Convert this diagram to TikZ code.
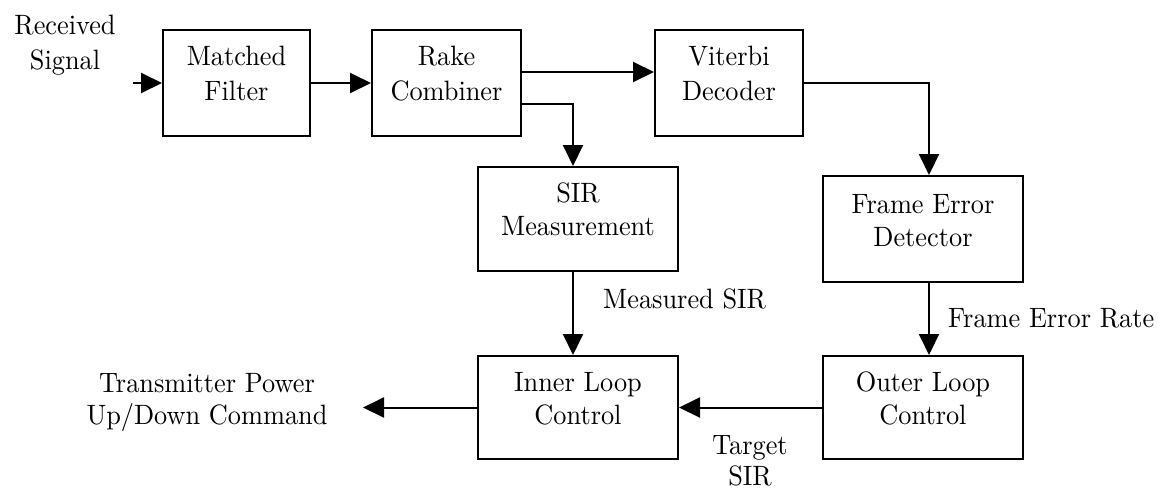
\documentclass[tikz,border=0pt]{standalone}
\usepackage{fontspec}
\newfontfamily\diagfont{lmroman10-regular.otf}[FakeStretch=0.94]
\usetikzlibrary{arrows.meta,calc}
\begin{document}
\begin{tikzpicture}[x=1pt,y=-1pt,
  font=\diagfont\fontsize{28}{33}\selectfont,
  box/.style={draw, line width=2pt, inner sep=0pt},
  txt/.style={anchor=base, inner sep=0pt},
  conn/.style={line width=2pt, -{Triangle[length=21pt,width=20pt]}}]
  % canvas
  \fill[white] (0,0) rectangle (1166,491);
  \useasboundingbox (0,0) rectangle (1166,491);

  % blocks
  \node[box, minimum width=147pt, minimum height=106pt] (mf)   at (236.5,83)  {};
  \node[box, minimum width=149pt, minimum height=106pt] (rake) at (446.5,83)  {};
  \node[box, minimum width=148pt, minimum height=106pt] (vit)  at (729,83)    {};
  \node[box, minimum width=200pt, minimum height=104pt] (sir)  at (578,219)   {};
  \node[box, minimum width=200pt, minimum height=106pt] (fed)  at (923,229)   {};
  \node[box, minimum width=200pt, minimum height=103pt] (ilc)  at (578,407.5) {};
  \node[box, minimum width=200pt, minimum height=103pt] (olc)  at (923,407.5) {};

  % block captions, one node per line
  \node[txt] (mf-a)   at ($(mf.north)+(0,36)$)   {Matched};
  \node[txt] (mf-b)   at ($(mf.north)+(0,71)$)   {Filter};
  \node[txt] (rake-a) at ($(rake.north)+(0,36)$) {Rake};
  \node[txt] (rake-b) at ($(rake.north)+(0,71)$) {Combiner};
  \node[txt] (vit-a)  at ($(vit.north)+(0,36)$)  {Viterbi};
  \node[txt] (vit-b)  at ($(vit.north)+(0,71)$)  {Decoder};
  \node[txt] (sir-a)  at ($(sir.north)+(0,36)$)  {SIR};
  \node[txt] (sir-b)  at ($(sir.north)+(0,69)$)  {Measurement};
  \node[txt] (fed-a)  at ($(fed.north)+(0,38)$)  {Frame Error};
  \node[txt] (fed-b)  at ($(fed.north)+(0,71)$)  {Detector};
  \node[txt] (ilc-a)  at ($(ilc.north)+(0,36)$)  {Inner Loop};
  \node[txt] (ilc-b)  at ($(ilc.north)+(0,69)$)  {Control};
  \node[txt] (olc-a)  at ($(olc.north)+(0,36)$)  {Outer Loop};
  \node[txt] (olc-b)  at ($(olc.north)+(0,69)$)  {Control};

  % free ends of the input and output lines
  \coordinate (in)  at (133,83);
  \coordinate (out) at (363,407.5);

  % signal flow
  \draw[conn] (in) -- (mf);
  \draw[conn] (mf) -- (rake);
  \draw[conn] ([yshift=11pt]rake.east) -- ([yshift=11pt]vit.west);
  \draw[conn] ([yshift=-21pt]rake.east) -| ([xshift=-5pt]sir.north);
  \draw[conn] (vit.east) -| ([xshift=6pt]fed.north);
  \draw[conn] ([xshift=-5pt]sir.south) -- ([xshift=-5pt]ilc.north);
  \draw[conn] ([xshift=6pt]fed.south) -- ([xshift=6pt]olc.north);
  \draw[conn] (olc) -- (ilc);
  \draw[conn] (ilc) -- (out);

  % signal labels
  \node[txt] (rx-a) at (65,34)  {Received};
  \node[txt] (rx-b) at (65,69)  {Signal};
  \node[txt] (tx-a) at (207,392) {Transmitter Power};
  \node[txt] (tx-b) at (207,424) {Up/Down Command};
  \node[txt, anchor=base west] (msir) at (603,308) {Measured SIR};
  \node[txt, anchor=base west] (fer)  at (948,327) {Frame Error Rate};
  \node[txt] (tsir-a) at (750,454) {Target};
  \node[txt] (tsir-b) at (750,485) {SIR};
\end{tikzpicture}
\end{document}
